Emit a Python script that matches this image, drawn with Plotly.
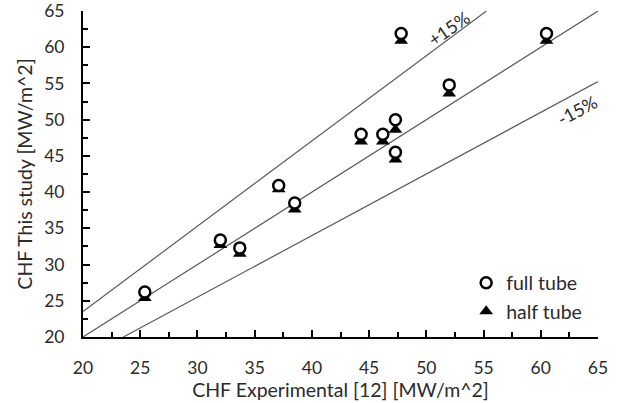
import plotly.graph_objects as go

chf_exp = [25.4, 32.0, 33.7, 37.1, 38.5, 44.3, 46.2, 47.3, 47.3, 47.8, 52.0, 60.5]
full_tube = [26.2, 33.4, 32.3, 40.9, 38.5, 48.0, 48.0, 50.0, 45.5, 61.9, 54.8, 61.9]
half_tube = [25.4, 32.7, 31.5, 40.4, 37.6, 47.0, 47.0, 48.6, 44.5, 60.9, 53.6, 60.9]

ref_x = [20, 65]
plus_x = [20, 65 * 0.85]
minus_x = [20 / 0.85, 65]

FONT = "Lato"
TXT = "#2b2b2b"
fig = go.Figure()

line_style = dict(color="#5a5a5a", width=1.2)
fig.add_trace(go.Scatter(x=ref_x, y=ref_x, mode="lines", line=line_style, showlegend=False, hoverinfo="skip"))
fig.add_trace(go.Scatter(x=plus_x, y=[v / 0.85 for v in plus_x], mode="lines", line=line_style, showlegend=False, hoverinfo="skip"))
fig.add_trace(go.Scatter(x=minus_x, y=[v * 0.85 for v in minus_x], mode="lines", line=line_style, showlegend=False, hoverinfo="skip"))

fig.add_trace(go.Scatter(
    x=chf_exp, y=half_tube, mode="markers", name="half tube",
    marker=dict(symbol="triangle-up", size=12, color="black", line=dict(width=0)),
))
fig.add_trace(go.Scatter(
    x=chf_exp, y=full_tube, mode="markers", name="full tube",
    marker=dict(symbol="circle", size=11, color="white", line=dict(color="black", width=2.5)),
))

fig.add_annotation(x=52.0, y=62.6, text="+15%", showarrow=False, textangle=-35,
                   font=dict(family=FONT, size=18, color=TXT))
fig.add_annotation(x=63.2, y=51.4, text="-15%", showarrow=False, textangle=-28,
                   font=dict(family=FONT, size=18, color=TXT))

axis_common = dict(
    range=[20, 65], dtick=5, tick0=20,
    showgrid=False, zeroline=False, automargin=False,
    showline=True, linecolor="black", linewidth=2,
    ticks="inside", ticklen=7, tickwidth=1.5, tickcolor="black",
    minor=dict(ticks="inside", ticklen=5, tickwidth=1.5, tickcolor="black", dtick=2.5, showgrid=False),
    tickfont=dict(family=FONT, size=17.5, color=TXT),
    ticklabeloverflow="allow",
)

fig.update_layout(
    width=622, height=403,
    margin=dict(l=83, r=24, t=11, b=66),
    paper_bgcolor="white", plot_bgcolor="white",
    font=dict(family=FONT, size=17, color=TXT),
    xaxis=dict(**axis_common, ticklabelstandoff=14,
               title=dict(text="CHF Experimental [12] [MW/m^2]", standoff=5,
                          font=dict(family=FONT, size=19.5, color=TXT))),
    yaxis=dict(**axis_common, ticklabelstandoff=13,
               title=dict(text="CHF This study [MW/m^2]", standoff=6,
                          font=dict(family=FONT, size=19.5, color=TXT))),
    legend=dict(x=0.744, y=0.225, xanchor="left", yanchor="top", traceorder="reversed",
                bgcolor="rgba(0,0,0,0)", font=dict(family=FONT, size=19.5, color=TXT),
                itemwidth=30, tracegroupgap=0),
    showlegend=True,
)

fig.write_html("out.html", config={"displayModeBar": False},
               post_script="document.body.style.margin='0';")
